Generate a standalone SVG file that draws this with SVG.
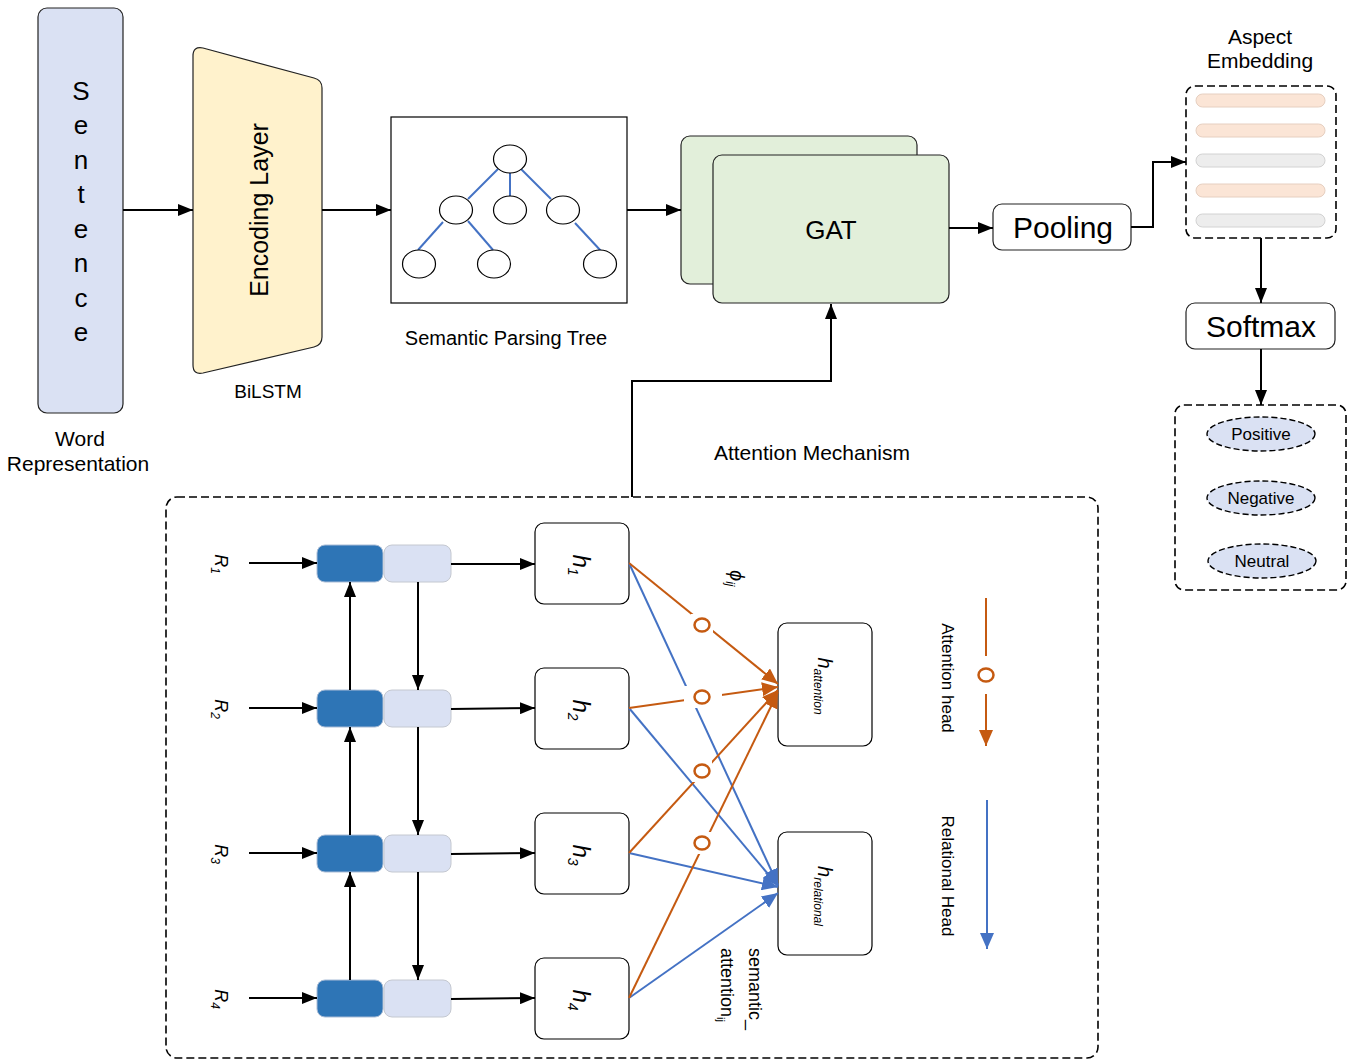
<svg xmlns="http://www.w3.org/2000/svg" width="1356" height="1060" viewBox="0 0 1356 1060">
<defs>
<marker id="ab" markerUnits="userSpaceOnUse" markerWidth="15" markerHeight="12" viewBox="0 0 15 12" refX="15" refY="6" orient="auto"><path d="M0,0 L15,6 L0,12 z" fill="#000"/></marker>
<marker id="ao" markerUnits="userSpaceOnUse" markerWidth="16" markerHeight="14" viewBox="0 0 16 14" refX="16" refY="7" orient="auto"><path d="M0,0 L16,7 L0,14 z" fill="#c55a11"/></marker>
<marker id="abl" markerUnits="userSpaceOnUse" markerWidth="16" markerHeight="14" viewBox="0 0 16 14" refX="16" refY="7" orient="auto"><path d="M0,0 L16,7 L0,14 z" fill="#4472c4"/></marker>
</defs>
<style>
.t{font-family:"Liberation Sans",Arial,sans-serif;fill:#000}
.i{font-style:italic}
.ln{stroke:#000;stroke-width:2;fill:none}
.or{stroke:#c55a11;stroke-width:2;fill:none}
.bl{stroke:#4472c4;stroke-width:2;fill:none}
.dash{fill:none;stroke:#000;stroke-width:1.6;stroke-dasharray:8 4}
.dk{fill:#2e75b6;stroke:#a9bcd6;stroke-width:1}
.lt{fill:#dae1f3;stroke:#c4c8d0;stroke-width:1}
.hb{fill:#fff;stroke:#000;stroke-width:1.2}
.tn{fill:#fff;stroke:#000;stroke-width:1.2}
.te{stroke:#4472c4;stroke-width:2}
.om{fill:none;stroke:#c55a11;stroke-width:2.5}
.bar1{fill:#fbe5d6;stroke:#e6cfc0;stroke-width:1}
.bar2{fill:#ededed;stroke:#d2d2d2;stroke-width:1}
.cls{fill:#dae1f3;stroke:#000;stroke-width:1.4;stroke-dasharray:6 3}
</style>

<g id="sentence">
<rect x="38" y="8" width="85" height="405" rx="9" fill="#dae1f3" stroke="#222" stroke-width="1.2"/>
<g class="t" font-size="26" text-anchor="middle">
<text x="81" y="100">S</text><text x="81" y="134">e</text><text x="81" y="169">n</text><text x="81" y="203">t</text><text x="81" y="238">e</text><text x="81" y="272">n</text><text x="81" y="307">c</text><text x="81" y="341">e</text>
</g>
<text class="t" x="80" y="446" font-size="21" text-anchor="middle">Word</text>
<text class="t" x="78" y="471" font-size="21" text-anchor="middle">Representation</text>
</g>

<g id="encoding">
<path d="M203,48 L314,78 Q322,80 322,88 L322,337 Q322,345 314,347 L203,373 Q193,375 193,365 L193,56 Q193,46 203,48 Z" fill="#fff2cc" stroke="#222" stroke-width="1.2"/>
<text class="t" font-size="25" text-anchor="middle" transform="translate(268,210) rotate(-90)">Encoding Layer</text>
<text class="t" x="268" y="398" font-size="19" text-anchor="middle">BiLSTM</text>
</g>

<g id="tree">
<rect x="391" y="117" width="236" height="186" fill="#fff" stroke="#000" stroke-width="1.2"/>
<line class="te" x1="498" y1="169" x2="468" y2="199"/>
<line class="te" x1="510" y1="173" x2="510" y2="196"/>
<line class="te" x1="521" y1="169" x2="551" y2="199"/>
<line class="te" x1="443" y1="222" x2="418" y2="250"/>
<line class="te" x1="468" y1="221" x2="493" y2="250"/>
<line class="te" x1="575" y1="223" x2="601" y2="251"/>
<ellipse class="tn" cx="510" cy="159" rx="16.5" ry="14"/>
<ellipse class="tn" cx="456" cy="210" rx="16.5" ry="14"/>
<ellipse class="tn" cx="510" cy="210" rx="16.5" ry="14"/>
<ellipse class="tn" cx="563" cy="210" rx="16.5" ry="14"/>
<ellipse class="tn" cx="419" cy="264" rx="16.5" ry="14"/>
<ellipse class="tn" cx="494" cy="264" rx="16.5" ry="14"/>
<ellipse class="tn" cx="600" cy="264" rx="16.5" ry="14"/>
<text class="t" x="506" y="345" font-size="20" text-anchor="middle">Semantic Parsing Tree</text>
</g>

<g id="gat">
<rect x="681" y="136" width="236" height="148" rx="9" fill="#e2efda" stroke="#222" stroke-width="1.2"/>
<rect x="713" y="155" width="236" height="148" rx="9" fill="#e2efda" stroke="#222" stroke-width="1.2"/>
<text class="t" x="831" y="239" font-size="26" text-anchor="middle">GAT</text>
</g>

<g id="pooling">
<rect x="993" y="204" width="138" height="46" rx="9" fill="#fff" stroke="#222" stroke-width="1.2"/>
<text class="t" x="1063" y="238" font-size="30" text-anchor="middle">Pooling</text>
</g>

<g id="aspect">
<text class="t" x="1260" y="44" font-size="21" text-anchor="middle">Aspect</text>
<text class="t" x="1260" y="68" font-size="21" text-anchor="middle">Embedding</text>
<rect class="dash" x="1186" y="86" width="150" height="152" rx="9"/>
<rect class="bar1" x="1196" y="94" width="129" height="13" rx="6.5"/>
<rect class="bar1" x="1196" y="124" width="129" height="13" rx="6.5"/>
<rect class="bar2" x="1196" y="154" width="129" height="13" rx="6.5"/>
<rect class="bar1" x="1196" y="184" width="129" height="13" rx="6.5"/>
<rect class="bar2" x="1196" y="214" width="129" height="13" rx="6.5"/>
</g>

<g id="softmax">
<rect x="1186" y="303" width="149" height="46" rx="9" fill="#fff" stroke="#222" stroke-width="1.2"/>
<text class="t" x="1261" y="337" font-size="30" text-anchor="middle">Softmax</text>
</g>

<g id="output">
<rect class="dash" x="1175" y="405" width="171" height="185" rx="9"/>
<ellipse class="cls" cx="1261" cy="434" rx="54" ry="17"/>
<text class="t" x="1261" y="440" font-size="17" text-anchor="middle">Positive</text>
<ellipse class="cls" cx="1261" cy="498" rx="54" ry="17"/>
<text class="t" x="1261" y="504" font-size="17" text-anchor="middle">Negative</text>
<ellipse class="cls" cx="1262" cy="561" rx="54" ry="17"/>
<text class="t" x="1262" y="567" font-size="17" text-anchor="middle">Neutral</text>
</g>

<g id="attention-mechanism">
<rect class="dash" x="166" y="497" width="932" height="561" rx="11"/>
<text class="t" x="812" y="460" font-size="21" text-anchor="middle">Attention Mechanism</text>

<g id="rnn-cells">
<rect class="dk" x="317" y="545" width="66" height="37" rx="8"/><rect class="lt" x="384" y="545" width="67" height="37" rx="8"/>
<rect class="dk" x="317" y="690" width="66" height="37" rx="8"/><rect class="lt" x="384" y="690" width="67" height="37" rx="8"/>
<rect class="dk" x="317" y="835" width="66" height="37" rx="8"/><rect class="lt" x="384" y="835" width="67" height="37" rx="8"/>
<rect class="dk" x="317" y="980" width="66" height="37" rx="8"/><rect class="lt" x="384" y="980" width="67" height="37" rx="8"/>
</g>

<g class="t i" font-size="18" text-anchor="middle">
<text transform="translate(215,564) rotate(90)">R<tspan font-size="12" dy="4">1</tspan></text>
<text transform="translate(215,709) rotate(90)">R<tspan font-size="12" dy="4">2</tspan></text>
<text transform="translate(215,854) rotate(90)">R<tspan font-size="12" dy="4">3</tspan></text>
<text transform="translate(215,999) rotate(90)">R<tspan font-size="12" dy="4">4</tspan></text>
</g>

<g id="h1"><rect class="hb" x="535" y="523" width="94" height="81" rx="9"/><text class="t i" font-size="24" text-anchor="middle" transform="translate(573,565) rotate(90)">h<tspan font-size="14" dy="5">1</tspan></text></g>
<g id="h2"><rect class="hb" x="535" y="668" width="94" height="81" rx="9"/><text class="t i" font-size="24" text-anchor="middle" transform="translate(573,710) rotate(90)">h<tspan font-size="14" dy="5">2</tspan></text></g>
<g id="h3"><rect class="hb" x="535" y="813" width="94" height="81" rx="9"/><text class="t i" font-size="24" text-anchor="middle" transform="translate(573,855) rotate(90)">h<tspan font-size="14" dy="5">3</tspan></text></g>
<g id="h4"><rect class="hb" x="535" y="958" width="94" height="81" rx="9"/><text class="t i" font-size="24" text-anchor="middle" transform="translate(573,1000) rotate(90)">h<tspan font-size="14" dy="5">4</tspan></text></g>

<g id="h-attention"><rect class="hb" x="778" y="623" width="94" height="123" rx="9"/><text class="t i" font-size="20" text-anchor="middle" transform="translate(818,686) rotate(90)">h<tspan font-size="12" dy="4">attention</tspan></text></g>
<g id="h-relational"><rect class="hb" x="778" y="832" width="94" height="123" rx="9"/><text class="t i" font-size="20" text-anchor="middle" transform="translate(818,896) rotate(90)">h<tspan font-size="12" dy="4">relational</tspan></text></g>

<text class="t i" font-size="20" transform="translate(730,570) rotate(90)">ϕ<tspan font-size="12" dy="4">ij</tspan></text>
<text class="t" font-size="18" transform="translate(749,948) rotate(90)">semantic_</text>
<text class="t" font-size="18" transform="translate(721,948) rotate(90)">attention<tspan font-size="11" dy="4">ij</tspan></text>

<g id="legend">
<line class="or" x1="986" y1="598" x2="986" y2="656"/>
<ellipse class="om" cx="986" cy="675" rx="7.5" ry="6.5"/>
<line class="or" x1="986" y1="694" x2="986" y2="746" marker-end="url(#ao)"/>
<text class="t" font-size="17" text-anchor="middle" transform="translate(942,678) rotate(90)">Attention head</text>
<line class="bl" x1="987" y1="800" x2="987" y2="949" marker-end="url(#abl)"/>
<text class="t" font-size="17" text-anchor="middle" transform="translate(942,876) rotate(90)">Relational Head</text>
</g>
</g>

<g id="connectors">
<line class="ln" x1="123" y1="210" x2="193" y2="210" marker-end="url(#ab)"/>
<line class="ln" x1="322" y1="210" x2="391" y2="210" marker-end="url(#ab)"/>
<line class="ln" x1="627" y1="210" x2="681" y2="210" marker-end="url(#ab)"/>
<line class="ln" x1="949" y1="228" x2="993" y2="228" marker-end="url(#ab)"/>
<polyline class="ln" points="1131,227 1153,227 1153,162 1186,162" marker-end="url(#ab)"/>
<line class="ln" x1="1261" y1="238" x2="1261" y2="303" marker-end="url(#ab)"/>
<line class="ln" x1="1261" y1="349" x2="1261" y2="405" marker-end="url(#ab)"/>
<polyline class="ln" points="632,497 632,381 831,381 831,304" marker-end="url(#ab)"/>

<line class="ln" x1="249" y1="563" x2="317" y2="563" marker-end="url(#ab)"/>
<line class="ln" x1="249" y1="708" x2="317" y2="708" marker-end="url(#ab)"/>
<line class="ln" x1="249" y1="853" x2="317" y2="853" marker-end="url(#ab)"/>
<line class="ln" x1="249" y1="998" x2="317" y2="998" marker-end="url(#ab)"/>
<line class="ln" x1="350" y1="690" x2="350" y2="582" marker-end="url(#ab)"/>
<line class="ln" x1="350" y1="835" x2="350" y2="727" marker-end="url(#ab)"/>
<line class="ln" x1="350" y1="980" x2="350" y2="872" marker-end="url(#ab)"/>
<line class="ln" x1="418" y1="582" x2="418" y2="690" marker-end="url(#ab)"/>
<line class="ln" x1="418" y1="727" x2="418" y2="835" marker-end="url(#ab)"/>
<line class="ln" x1="418" y1="872" x2="418" y2="980" marker-end="url(#ab)"/>
<line class="ln" x1="451" y1="564" x2="535" y2="564" marker-end="url(#ab)"/>
<line class="ln" x1="451" y1="709" x2="535" y2="708" marker-end="url(#ab)"/>
<line class="ln" x1="451" y1="854" x2="535" y2="853" marker-end="url(#ab)"/>
<line class="ln" x1="451" y1="999" x2="535" y2="998" marker-end="url(#ab)"/>

<line class="bl" x1="629" y1="563" x2="778" y2="885" marker-end="url(#abl)"/>
<line class="bl" x1="629" y1="708" x2="778" y2="886" marker-end="url(#abl)"/>
<line class="bl" x1="629" y1="853" x2="778" y2="887" marker-end="url(#abl)"/>
<line class="bl" x1="629" y1="998" x2="778" y2="893" marker-end="url(#abl)"/>

<line class="or" x1="629" y1="563" x2="778" y2="684" marker-end="url(#ao)"/>
<line class="or" x1="629" y1="708" x2="778" y2="687" marker-end="url(#ao)"/>
<line class="or" x1="629" y1="853" x2="778" y2="690" marker-end="url(#ao)"/>
<line class="or" x1="629" y1="998" x2="778" y2="692" marker-end="url(#ao)"/>

<g fill="#fff" stroke="none">
<rect x="691" y="614" width="22" height="22"/>
<rect x="684" y="686" width="38" height="22"/>
<rect x="692" y="760" width="20" height="22"/>
<rect x="692" y="832" width="20" height="22"/>
</g>
<ellipse class="om" cx="702" cy="625" rx="7.5" ry="6.5"/>
<ellipse class="om" cx="702" cy="697" rx="7.5" ry="6.5"/>
<ellipse class="om" cx="702" cy="771" rx="7.5" ry="6.5"/>
<ellipse class="om" cx="702" cy="843" rx="7.5" ry="6.5"/>
</g>
</svg>
